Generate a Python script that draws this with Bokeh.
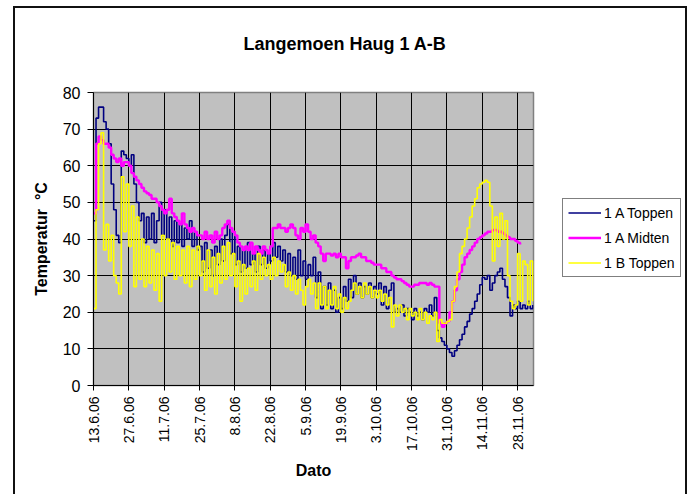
import math
from datetime import datetime
from bokeh.plotting import figure
from bokeh.models import FixedTicker, Range1d, Legend, LegendItem
from bokeh.embed import file_html
from bokeh.resources import INLINE

# ---------------- data ----------------
start_date = "13.6.06"   # first day of the daily readings
tick_labels = ["13.6.06", "27.6.06", "11.7.06", "25.7.06", "8.8.06", "22.8.06",
               "5.9.06", "19.9.06", "3.10.06", "17.10.06", "31.10.06", "14.11.06",
               "28.11.06"]
y_ticks = [0, 10, 20, 30, 40, 50, 60, 70, 80]

# 1 A Toppen (daily readings, °C)
a_toppen = [
    45, 73, 76, 76, 72, 70, 66,
    55, 48, 41, 39, 64, 63, 62,
    60, 63, 55, 50, 45, 47, 39,
    46, 40, 47, 39, 45, 50, 41,
    48, 40, 46, 38, 45, 39, 44,
    38, 43, 40, 45, 38, 42, 37,
    38, 31, 39, 32, 37, 30, 38,
    33, 40, 34, 41, 44, 36, 42,
    33, 38, 31, 37, 32, 39, 33,
    36, 31, 38, 33, 37, 32, 36,
    34, 39, 35, 38, 34, 37, 31,
    36, 30, 35, 29, 37, 30, 34,
    29, 33, 30, 35, 24, 31, 21,
    27, 22, 28, 21, 26, 20, 24,
    21, 27, 23, 29, 24, 30, 25,
    28, 24, 27, 25, 28, 24, 27,
    25, 28, 22, 27, 21, 26, 28,
    20, 21, 20, 22, 19, 21, 20,
    18, 21, 19, 20, 18, 21, 20,
    22, 19, 24, 15, 13, 12, 11,
    10, 9, 8, 9.5, 11, 12.5, 14,
    16, 17.5, 19.5, 21, 23, 25, 27.5,
    29.5, 29, 30, 26, 28, 30, 31,
    32, 29, 27, 24, 19, 22, 21,
    23, 21, 22, 21, 23, 21, 22,
]

# 1 A Midten
a_midten = [
    47, 66, 68, 67, 66, 66, 65,
    63, 62, 61, 62, 60, 61, 61,
    60, 58, 57, 56, 55, 54, 53,
    52.5, 52, 51, 51, 50, 49, 48,
    47, 48, 51, 47, 46, 45, 44,
    47, 44, 43, 42, 43, 42, 41,
    41, 40, 42, 40, 41, 39, 42,
    40, 41, 43, 44, 45, 43, 42,
    41, 39, 38, 37, 38, 37, 39,
    36, 38, 37, 36, 38, 37, 36,
    38, 43, 43, 44, 43, 43, 42,
    43, 44, 43, 41, 40, 43, 42,
    44, 42, 40, 41, 39, 38, 36,
    34, 36, 36, 35.5, 36, 35, 36,
    35, 35, 32, 34, 35, 35, 35.5,
    36, 35, 35, 34, 34, 33.5, 33,
    33, 33, 32, 32, 31, 31, 30,
    29.5, 29, 29, 28.5, 28, 27.5, 27,
    27, 27.5, 27.5, 28, 28, 28, 27.5,
    28, 27.5, 27, 27, 17, 16, 17,
    17.5, 20, 23, 26, 29, 31, 33,
    35, 36, 37, 38, 39, 40, 40.5,
    41, 41.5, 42, 42, 42.5, 42.5, 42,
    42, 41.5, 41, 40.5, 40, 40, 39.5,
    39, 38.5,
]

# 1 B Toppen
b_toppen = [
    21, 48, 66, 69, 37, 44, 34,
    41, 30, 28, 25, 57, 42, 55,
    38, 49, 27, 46, 29, 40, 27,
    38, 28, 37, 26, 36, 23, 41,
    30, 40, 31, 39, 29, 38, 30,
    37, 28, 38, 27, 37, 29, 38,
    30, 34, 26, 37, 27, 35, 25,
    36, 28, 38, 29, 39, 30, 36,
    27, 34, 23, 33, 25, 32, 27,
    34, 26, 36, 29, 35, 30, 33,
    29, 35, 30, 34, 31, 33, 27,
    31, 26, 30, 25, 29, 26, 22,
    27, 29, 25, 28, 21, 28, 22,
    27, 21, 26, 22, 27, 21, 25,
    20, 24, 21, 23, 26, 28, 25,
    27, 24, 28, 25, 27, 24, 26,
    24, 26, 23, 25, 22, 24, 16,
    22, 19, 22, 20, 21, 18, 21,
    19, 20, 18, 21, 18, 20, 17,
    19, 18, 20, 12, 18, 17, 17,
    17.5, 18, 23, 27, 31, 36, 38,
    40, 43, 46, 49, 51, 54, 55,
    55.5, 56, 55.5, 49, 34, 46, 38,
    47, 40, 45, 30, 23, 21, 22,
    36, 23, 34, 33, 22, 34, 23,
]

series_names = ["1 A Toppen", "1 A Midten", "1 B Toppen"]
series_colors = ["#000080", "#FF00FF", "#FFFF00"]
chart_title = "Langemoen Haug 1 A-B"

# ---------------- build ----------------
def parse(s):
    return datetime.strptime(s, "%d.%m.%y")

t0 = parse(start_date)
tick_pos = [(parse(s) - t0).days for s in tick_labels]

FONT = "Liberation Sans"

p = figure(frame_width=440, frame_height=293, output_backend="svg", toolbar_location=None,
           x_range=Range1d(0, 174.3), y_range=Range1d(0, 80),
           min_border_left=78, min_border_right=152,
           min_border_top=84, min_border_bottom=109)

p.styles = {"border-style": "solid", "border-color": "#111",
            "border-width": "2px 2px 0px 2px",
            "box-sizing": "content-box",
            "max-width": "670px", "overflow": "hidden",
            "margin-left": "13px", "margin-top": "6px"}

p.background_fill_color = "#C0C0C0"
p.border_fill_color = "white"
p.outline_line_color = "#808080"
p.outline_line_width = 1.5

# second (blank) line lifts the title further above the plot area
p.title.text = chart_title + "\n\u00a0"
p.title.align = "left"
p.title.offset = 150
p.title.standoff = 38
p.title.text_font = FONT
p.title.text_font_size = "18px"
p.title.text_font_style = "bold"
p.title.text_color = "black"

renderers = []
for vals, color, lw in zip([a_toppen, a_midten, b_toppen], series_colors, [1.6, 2.4, 1.6]):
    xs = list(range(len(vals)))
    r = p.step(xs, vals, mode="after", line_color=color, line_width=lw)
    renderers.append(r)

# axes
xa = p.xaxis[0]
xa.ticker = FixedTicker(ticks=tick_pos)
xa.major_label_overrides = {tp: lab for tp, lab in zip(tick_pos, tick_labels)}
xa.major_label_orientation = math.pi / 2
xa.major_tick_out = 5
xa.major_tick_in = 0
xa.minor_tick_line_color = None
xa.major_label_standoff = 6
xa.major_label_text_font = FONT
xa.major_label_text_font_size = "14px"
xa.major_label_text_color = "black"
xa.axis_label = "Dato"
xa.axis_label_text_font = FONT
xa.axis_label_text_font_size = "16px"
xa.axis_label_text_font_style = "bold"
xa.axis_label_standoff = 8
xa.axis_label_text_color = "black"
xa.axis_line_color = "black"
xa.major_tick_line_color = "black"

ya = p.yaxis[0]
ya.ticker = FixedTicker(ticks=y_ticks)
ya.major_tick_out = 6
ya.major_tick_in = 0
ya.minor_tick_line_color = None
ya.major_label_standoff = 7
ya.major_label_text_font = FONT
ya.major_label_text_font_size = "16px"
ya.major_label_text_color = "black"
ya.axis_label = "Temperatur\u00a0 \u00b0C"
ya.axis_label_text_font = FONT
ya.axis_label_text_font_size = "16px"
ya.axis_label_text_font_style = "bold"
ya.axis_label_text_color = "black"
ya.axis_label_standoff = 10
ya.axis_line_color = "black"
ya.major_tick_line_color = "black"

p.xgrid.ticker = FixedTicker(ticks=tick_pos)
p.ygrid.ticker = FixedTicker(ticks=y_ticks)
for g in (p.xgrid[0], p.ygrid[0]):
    g.grid_line_color = "black"
    g.grid_line_width = 1
    g.grid_line_alpha = 1

legend = Legend(items=[LegendItem(label=n, renderers=[r]) for n, r in zip(series_names, renderers)],
                location=(29, 108))
legend.border_line_color = "black"
legend.border_line_width = 1
legend.background_fill_color = "white"
legend.background_fill_alpha = 1
legend.label_text_font = FONT
legend.label_text_font_size = "14px"
legend.label_text_color = "black"
legend.glyph_width = 33
legend.glyph_height = 17
legend.label_height = 17
legend.label_standoff = 3
legend.spacing = 8
legend.padding = 5
legend.margin = 0
p.add_layout(legend, "right")

open("out.html", "w").write(file_html(p, INLINE))
